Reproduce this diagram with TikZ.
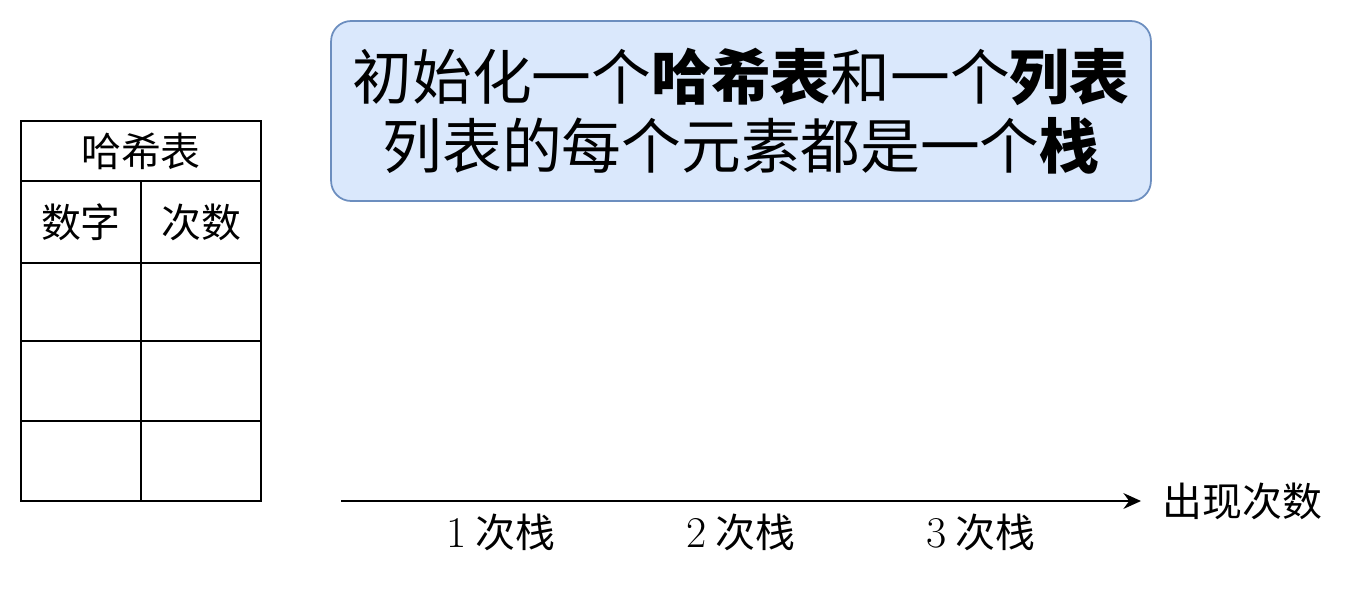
\documentclass[tikz,border=0pt]{standalone}
\usepackage{fontspec}
\usepackage{tikz}
\usetikzlibrary{arrows.meta,positioning}
\newfontfamily\cjk{Noto Sans CJK SC}
\definecolor{boxfill}{HTML}{DAE8FC}
\definecolor{boxline}{HTML}{6C8EBF}

\begin{document}
\begin{tikzpicture}[
    x=0.02cm, y=-0.02cm,
    cell/.style={draw, line width=1.1pt, inner sep=0pt, minimum width=2.4cm, font=\cjk\fontsize{22.7}{26}\selectfont},
    note/.style={draw=boxline, fill=boxfill, line width=1pt, rounded corners=0.4cm, minimum width=16.4cm, minimum height=3.6cm, align=center, font=\cjk\fontsize{34}{39.5}\selectfont},
    lbl/.style={inner sep=0pt, font=\cjk\fontsize{22.7}{26}\selectfont},
    arr/.style={-{Stealth[length=10pt,width=9pt]}, line width=1.1pt}
]
    \useasboundingbox (0,0) rectangle (1362,592);

    % Top note
    \node[note] (init) at (741,111) {初始化一个\textbf{哈希表}和一个\textbf{列表}\\列表的每个元素都是一个\textbf{栈}};

    % Hash table (left)
    \node[cell, minimum width=4.8cm, minimum height=1.2cm] (head) at (141,151) {哈希表};
    \node[cell, minimum height=1.64cm] (num) at (81,222) {数字};
    \node[cell, minimum height=1.64cm] (cnt) at (201,222) {次数};
    \node[cell, minimum height=1.56cm] (a1) at (81,302) {};
    \node[cell, minimum height=1.56cm] (b1) at (201,302) {};
    \node[cell, minimum height=1.6cm] (a2) at (81,381) {};
    \node[cell, minimum height=1.6cm] (b2) at (201,381) {};
    \node[cell, minimum height=1.6cm] (a3) at (81,461) {};
    \node[cell, minimum height=1.6cm] (b3) at (201,461) {};

    % Count axis
    \coordinate (ax0) at (341,501);
    \node[lbl, anchor=west] (axis) at (1162,501) {出现次数};
    \draw[arr] (ax0) -- ([xshift=-0.42cm]axis.west);

    % Stack labels below the axis
    \node[lbl] (s1) at (501,532) {{\normalfont\fontsize{25}{26}\selectfont 1} 次栈};
    \node[lbl] (s2) at (741,532) {{\normalfont\fontsize{25}{26}\selectfont 2} 次栈};
    \node[lbl] (s3) at (981,532) {{\normalfont\fontsize{25}{26}\selectfont 3} 次栈};
\end{tikzpicture}
\end{document}
